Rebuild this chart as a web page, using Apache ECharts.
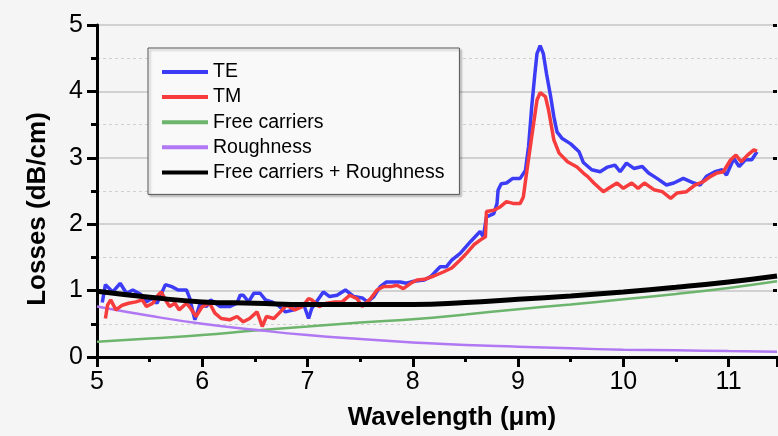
<!DOCTYPE html>
<html>
<head>
	<meta charset="utf-8">
	<title>Losses vs wavelength</title>
</head>
<body style="margin:0;background:#f5f5f5;">
<script type="text/javascript" src="https://cdn.jsdelivr.net/npm/echarts@6/dist/echarts.min.js"></script>
<div id="container" style="width: 778px;height: 436px;"></div>
<script type="text/javascript">
	// TE measurement (wavelength um, loss dB/cm)
	var teWl = [5.05,5.08,5.15,5.22,5.28,5.34,5.41,5.47,5.52,5.57,5.65,5.71,5.77,5.85,5.88,5.93,5.98,6.04,6.08,6.17,
		6.26,6.33,6.36,6.39,6.44,6.49,6.55,6.60,6.66,6.72,6.79,6.87,6.96,7.01,7.04,7.12,7.15,7.21,7.28,7.36,
		7.44,7.52,7.57,7.63,7.69,7.75,7.82,7.88,7.94,8.01,8.11,8.17,8.26,8.32,8.37,8.45,8.55,8.61,8.64,8.67,
		8.70,8.77,8.80,8.81,8.84,8.89,8.95,9.02,9.07,9.10,9.13,9.16,9.18,9.21,9.24,9.27,9.31,9.34,9.37,9.42,
		9.50,9.58,9.62,9.70,9.78,9.85,9.92,9.97,10.03,10.10,10.18,10.24,10.32,10.41,10.48,10.57,10.67,10.73,10.79,10.87,
		10.94,10.98,11.05,11.10,11.16,11.22,11.27];
	var teLoss = [0.82,1.09,0.98,1.11,0.96,1.01,0.95,0.83,0.88,0.81,1.09,1.06,1.01,1.01,0.89,0.56,0.81,0.76,0.86,0.76,
		0.76,0.81,0.93,0.93,0.83,0.96,0.96,0.86,0.83,0.78,0.68,0.71,0.81,0.58,0.73,0.91,0.98,0.91,0.93,1.01,
		0.91,0.89,0.83,0.91,1.06,1.13,1.13,1.13,1.11,1.14,1.16,1.21,1.36,1.36,1.46,1.56,1.74,1.84,1.89,1.81,
		2.11,2.16,2.31,2.51,2.61,2.62,2.69,2.69,2.81,3.17,3.77,4.27,4.57,4.69,4.57,4.27,3.92,3.62,3.39,3.29,
		3.21,3.09,2.93,2.82,2.79,2.86,2.89,2.79,2.92,2.84,2.87,2.77,2.69,2.59,2.62,2.69,2.62,2.59,2.72,2.79,
		2.82,2.74,2.99,2.87,2.97,2.97,3.09];

	// TM measurement
	var tmWl = [5.08,5.10,5.13,5.18,5.24,5.30,5.37,5.43,5.47,5.53,5.58,5.61,5.65,5.69,5.74,5.78,5.85,5.89,5.94,6.00,
		6.07,6.12,6.18,6.26,6.33,6.39,6.45,6.52,6.57,6.61,6.68,6.76,6.80,6.88,6.95,7.01,7.04,7.11,7.18,7.26,
		7.33,7.40,7.47,7.52,7.60,7.66,7.72,7.79,7.85,7.91,7.98,8.04,8.11,8.20,8.29,8.37,8.45,8.51,8.58,8.64,
		8.69,8.70,8.77,8.83,8.89,8.96,9.02,9.05,9.08,9.13,9.18,9.21,9.26,9.29,9.34,9.39,9.47,9.56,9.62,9.66,
		9.72,9.81,9.86,9.94,10.00,10.08,10.14,10.20,10.29,10.37,10.45,10.51,10.60,10.68,10.76,10.83,10.89,10.95,11.02,11.07,
		11.12,11.18,11.24,11.27];
	var tmLoss = [0.58,0.78,0.86,0.71,0.78,0.81,0.83,0.86,0.76,0.81,0.93,0.98,0.86,0.76,0.81,0.71,0.81,0.73,0.61,0.76,
		0.81,0.66,0.58,0.56,0.61,0.53,0.58,0.68,0.46,0.61,0.58,0.71,0.78,0.71,0.76,0.88,0.86,0.76,0.81,0.83,
		0.83,0.93,0.88,0.76,0.88,1.01,1.06,1.06,1.08,1.03,1.11,1.16,1.17,1.22,1.28,1.34,1.46,1.56,1.69,1.76,
		1.81,2.19,2.21,2.26,2.34,2.31,2.31,2.41,2.76,3.32,3.87,3.98,3.92,3.72,3.27,3.07,2.94,2.86,2.77,2.72,
		2.62,2.49,2.54,2.62,2.54,2.62,2.54,2.62,2.52,2.49,2.39,2.47,2.49,2.59,2.64,2.72,2.77,2.79,2.97,3.04,
		2.94,3.04,3.12,3.10];

	// models
	var modelWl = [5.0,5.5,6.0,6.5,7.0,7.5,8.0,8.5,9.0,9.5,10.0,10.5,11.0,11.46];
	var freeCarriers = [0.23,0.28,0.33,0.40,0.46,0.52,0.57,0.64,0.72,0.79,0.87,0.95,1.04,1.14];
	var roughness = [0.76,0.62,0.50,0.41,0.33,0.27,0.22,0.18,0.155,0.13,0.11,0.10,0.09,0.08];
	var fcPlusRough = [0.99,0.90,0.83,0.81,0.79,0.79,0.79,0.82,0.87,0.92,0.98,1.05,1.13,1.22];

	var legendNames = ['TE','TM','Free carriers','Roughness','Free carriers + Roughness'];

	function pairs(xs, ys) {
		var out = [];
		for (var i = 0; i < xs.length; i++) out.push([xs[i], ys[i]]);
		return out;
	}

	var myChart = echarts.init(document.getElementById('container'));
	var labelFont = {fontFamily: 'Liberation Sans', fontSize: 25, color: '#000'};
	var option = {
		backgroundColor: '#f5f5f5',
		animation: false,
		grid: {left: 97, top: 25, right: 1, bottom: 79},
		legend: {
			data: legendNames,
			orient: 'vertical',
			left: 148, top: 48,
			padding: [14, 15, 12, 14],
			itemWidth: 46, itemHeight: 4, itemGap: 5.1,
			icon: 'rect',
			backgroundColor: '#f9f9f9',
			borderColor: '#555', borderWidth: 1,
			shadowColor: 'rgba(0,0,0,0.25)', shadowOffsetX: 2, shadowOffsetY: 2, shadowBlur: 2,
			textStyle: {fontFamily: 'Liberation Sans', fontSize: 19.5, color: '#000', lineHeight: 19.5}
		},
		xAxis: [{
			type: 'value', min: 5, max: 11.46, interval: 1,
			name: 'Wavelength (\u03bcm)', nameLocation: 'middle', nameGap: 48,
			nameTextStyle: {fontFamily: 'Liberation Sans', fontSize: 26, fontWeight: 'bold', color: '#000', padding: [0, 0, 0, 30]},
			axisLine: {lineStyle: {color: '#000', width: 3}},
			axisTick: {length: 10, lineStyle: {color: '#000', width: 3}},
			minorTick: {show: true, splitNumber: 2, length: 5, lineStyle: {color: '#000', width: 3}},
			axisLabel: Object.assign({margin: 13, showMaxLabel: false,
				formatter: function (v) { return v % 1 === 0 ? String(v) : ''; }}, labelFont),
			splitLine: {show: false}
		}, {
			type: 'value', position: 'top', min: 5, max: 11.46, interval: 1,
			axisLine: {lineStyle: {color: '#000', width: 3}},
			axisTick: {inside: true, length: 8, lineStyle: {color: '#000', width: 3}},
			minorTick: {show: true, splitNumber: 2, length: 5, lineStyle: {color: '#000', width: 3}},
			axisLabel: {show: false},
			splitLine: {show: false}
		}],
		yAxis: [{
			type: 'value', min: 0, max: 5, interval: 1,
			name: 'Losses (dB/cm)', nameLocation: 'middle', nameGap: 46, nameRotate: 90,
			nameTextStyle: {fontFamily: 'Liberation Sans', fontSize: 26, fontWeight: 'bold', color: '#000', padding: [0, 36, 0, 0]},
			axisLine: {lineStyle: {color: '#000', width: 3}},
			axisTick: {length: 10, lineStyle: {color: '#000', width: 3}},
			minorTick: {show: true, splitNumber: 2, length: 6, lineStyle: {color: '#000', width: 3}},
			axisLabel: Object.assign({margin: 14}, labelFont),
			splitLine: {show: true, lineStyle: {color: '#c4c4c4', width: 1.5}},
			minorSplitLine: {show: true, lineStyle: {color: '#cfcfcf', width: 1, type: [3, 3]}}
		}, {
			type: 'value', position: 'right', min: 0, max: 5, interval: 1,
			axisLine: {show: false},
			axisTick: {show: true, inside: true, length: 4, lineStyle: {color: '#000', width: 3}},
			axisLabel: {show: false},
			splitLine: {show: false}
		}],
		series: [
			{name: 'Free carriers', type: 'line', smooth: true, symbol: 'none',
				color: '#6db46d', lineStyle: {width: 2.5, color: '#6db46d'},
				data: pairs(modelWl, freeCarriers)},
			{name: 'Roughness', type: 'line', smooth: true, symbol: 'none',
				color: '#b078f2', lineStyle: {width: 2.5, color: '#b078f2'},
				data: pairs(modelWl, roughness)},
			{name: 'TE', type: 'line', symbol: 'none',
				color: '#3c3cf6', lineStyle: {width: 3.5, color: '#3c3cf6'},
				data: pairs(teWl, teLoss)},
			{name: 'TM', type: 'line', symbol: 'none',
				color: '#f63c3c', lineStyle: {width: 3.5, color: '#f63c3c'},
				data: pairs(tmWl, tmLoss)},
			{name: 'Free carriers + Roughness', type: 'line', smooth: true, symbol: 'none',
				color: '#000', lineStyle: {width: 5, color: '#000'},
				data: pairs(modelWl, fcPlusRough)}
		]
	};
	myChart.setOption(option);
	window.addEventListener('resize', myChart.resize);
</script>
</body>
</html>
